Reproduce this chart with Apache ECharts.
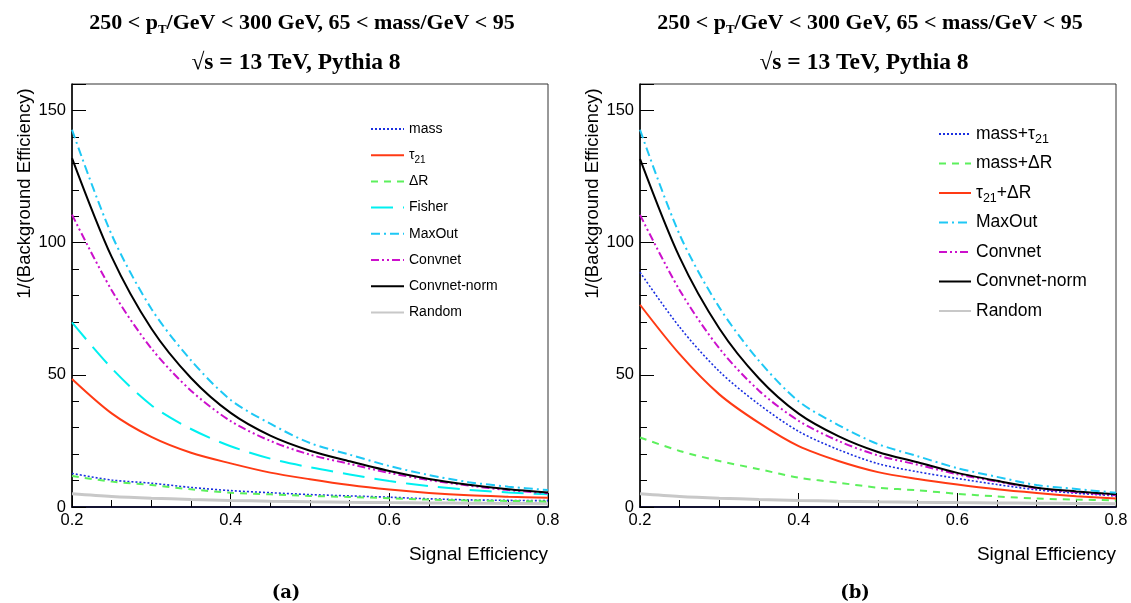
<!DOCTYPE html>
<html>
<head>
<meta charset="utf-8">
<script src="https://cdn.jsdelivr.net/npm/echarts@6/dist/echarts.min.js"></script>
<style>html,body{margin:0;padding:0;background:#fff;}#c{width:1131px;height:603px;}</style>
</head>
<body>
<div id="c"></div>
<script>
// Signal efficiency sample points
var xs = [0.2, 0.25, 0.3, 0.35, 0.4, 0.45, 0.5, 0.55, 0.6, 0.65, 0.7, 0.75, 0.8];
var xTicks = ['0.2', '0.4', '0.6', '0.8'];
var yTicks = [0, 50, 100, 150];

// (a) panel: 1/(background efficiency)
var aMass   = [12.7, 10.2, 9.0, 7.4, 6.2, 5.4, 4.7, 4.2, 3.7, 3.1, 2.7, 2.5, 2.4];
var aTau21  = [48.4, 35.4, 26.5, 20.5, 16.5, 13.0, 10.5, 8.3, 6.6, 5.3, 4.4, 3.9, 3.5];
var aDR     = [11.7, 9.6, 8.3, 6.7, 5.4, 4.8, 4.2, 3.8, 3.3, 2.8, 2.5, 2.3, 2.1];
var aFisher = [69.8, 52.5, 38.5, 29.5, 23.0, 18.3, 15.0, 12.3, 9.8, 7.9, 6.5, 5.5, 4.8];
var aMaxOut = [142.7, 103.0, 75.0, 55.5, 40.5, 31.5, 24.2, 19.8, 15.5, 12.1, 9.4, 7.7, 6.4];
var aConv   = [110.6, 82.0, 60.0, 44.0, 32.5, 25.0, 19.8, 16.3, 12.9, 10.2, 8.1, 6.4, 5.2];
var aConvN  = [132.0, 94.6, 67.5, 48.8, 35.6, 27.0, 21.3, 17.3, 13.6, 10.6, 8.4, 6.7, 5.5];
var random  = [5.0, 4.0, 3.33, 2.86, 2.5, 2.22, 2.0, 1.82, 1.67, 1.54, 1.43, 1.33, 1.25];

// (b) panel
var bMassTau = [88.8, 68.0, 51.3, 38.8, 28.6, 21.7, 16.4, 13.3, 10.8, 8.5, 6.5, 5.2, 4.2];
var bMassDR  = [26.3, 21.2, 17.4, 14.3, 11.1, 9.2, 7.3, 6.3, 5.0, 4.0, 3.2, 2.8, 2.5];
var bTauDR   = [76.5, 57.8, 42.6, 31.8, 23.0, 17.4, 13.2, 10.6, 8.5, 6.7, 5.3, 4.1, 3.2];
var bMaxOut  = [142.7, 103.0, 75.5, 55.3, 40.0, 31.0, 23.8, 19.2, 14.7, 11.4, 8.3, 6.8, 5.4];
var bConv    = [110.5, 82.0, 60.0, 44.0, 32.6, 25.0, 19.5, 16.0, 12.4, 9.6, 7.1, 5.6, 4.4];
var bConvN   = [131.7, 94.4, 67.5, 48.6, 35.3, 26.8, 20.8, 16.9, 12.9, 9.9, 7.3, 5.9, 4.8];

var legendA = ['mass', 'τ21', 'ΔR', 'Fisher', 'MaxOut', 'Convnet', 'Convnet-norm', 'Random'];
var legendB = ['mass+τ21', 'mass+ΔR', 'τ21+ΔR', 'MaxOut', 'Convnet', 'Convnet-norm', 'Random'];

var SANS = 'Liberation Sans';
var SERIF = 'Liberation Serif';

var styles = {
  'mass':        {color: '#1a2fe0', type: [2, 2], width: 1.6},
  'mass+τ21':    {color: '#1a2fe0', type: [2, 2], width: 1.6},
  'τ21':         {color: '#ff3a14', type: 'solid', width: 2},
  'τ21+ΔR':      {color: '#ff3a14', type: 'solid', width: 2},
  'ΔR':          {color: '#5cf05c', type: [7, 6], width: 2},
  'mass+ΔR':     {color: '#5cf05c', type: [7, 6], width: 2},
  'Fisher':      {color: '#00f0f0', type: [22, 10], width: 2},
  'MaxOut':      {color: '#1ec8f5', type: [9, 4, 2, 4], width: 2},
  'Convnet':     {color: '#cc10cc', type: [8, 3, 2, 3, 2, 3], width: 2},
  'Convnet-norm':{color: '#000000', type: 'solid', width: 2},
  'Random':      {color: '#c8c8c8', type: 'solid', width: 3}
};

function pairs(arr) { return xs.map(function (x, i) { return [x, arr[i]]; }); }

function mkSeries(name, arr, g) {
  var s = styles[name];
  return {
    name: name, type: 'line', xAxisIndex: g, yAxisIndex: g * 2,
    data: pairs(arr), smooth: 0.3, symbol: 'none', silent: true,
    color: s.color,
    lineStyle: {color: s.color, type: s.type, width: s.width},
    z: name === 'Random' ? 1 : 3
  };
}

function fmtName(n) {
  return n.replace(/τ21/g, 'τ{s|21}');
}

function mkGrid(left) {
  return {left: left, top: 84, width: 476, height: 423, show: true, borderColor: '#333', borderWidth: 1, containLabel: false};
}

function mkX(g) {
  return {
    type: 'value', gridIndex: g, min: 0.2, max: 0.8, interval: 0.2,
    name: 'Signal Efficiency', nameLocation: 'end', nameGap: 0,
    nameTextStyle: {fontFamily: SANS, fontSize: 19, color: '#000', align: 'right', verticalAlign: 'top', padding: [38, 0, 0, 0]},
    axisLine: {show: true, onZero: false, lineStyle: {color: '#141432', width: 2}},
    axisTick: {show: true, inside: true, length: 14, lineStyle: {color: '#000', width: 1}},
    minorTick: {show: true, splitNumber: 4, length: 7, lineStyle: {color: '#000', width: 1}},
    axisLabel: {fontFamily: SANS, fontSize: 16.5, color: '#000', margin: 5,
      formatter: function (v) { var t = v.toFixed(1); return xTicks.indexOf(t) >= 0 ? t : ''; }},
    splitLine: {show: false}
  };
}

function mkYMajor(g) {
  return {
    type: 'value', gridIndex: g, min: 0, max: 160, interval: 50, position: 'left',
    name: '1/(Background Efficiency)', nameLocation: 'middle', nameGap: 36,
    nameTextStyle: {fontFamily: SANS, fontSize: 18.5, color: '#000', padding: [0, 0, 0, 204]},
    axisLine: {show: true, onZero: false, lineStyle: {color: '#000', width: 1.5}},
    axisTick: {show: true, inside: true, length: 14, lineStyle: {color: '#000', width: 1}},
    axisLabel: {fontFamily: SANS, fontSize: 16.5, color: '#000', margin: 6,
      formatter: function (v) { return yTicks.indexOf(v) >= 0 ? String(v) : ''; }},
    splitLine: {show: false}
  };
}

function mkYMinor(g) {
  return {
    type: 'value', gridIndex: g, min: 0, max: 160, interval: 10, position: 'left', offset: 0,
    axisLine: {show: false},
    axisTick: {show: true, inside: true, length: 7, lineStyle: {color: '#000', width: 1}},
    axisLabel: {show: false}, splitLine: {show: false}
  };
}

function mkTitle(cx) {
  return [
    {text: '250 < p{s|T}/GeV < 300 GeV, 65 < mass/GeV < 95', left: cx - 5, top: 5, textAlign: 'center',
      textStyle: {fontFamily: SERIF, fontWeight: 'bold', fontSize: 22, color: '#000',
        rich: {s: {fontFamily: SERIF, fontWeight: 'bold', fontSize: 13, verticalAlign: 'bottom', padding: [13, 0, 0, 0]}}}},
    {text: '√s = 13 TeV, Pythia 8', left: cx - 11, top: 46, textAlign: 'center',
      textStyle: {fontFamily: SERIF, fontWeight: 'bold', fontSize: 23.5, color: '#000'}}
  ];
}

var option = {
  animation: false,
  backgroundColor: '#ffffff',
  title: mkTitle(302).concat(mkTitle(870)).concat([
    {text: '(a)', left: 281, top: 579, textAlign: 'center', textStyle: {fontFamily: 'DejaVu Serif', fontWeight: 'bold', fontSize: 18, color: '#000'}},
    {text: '(b)', left: 850, top: 579, textAlign: 'center', textStyle: {fontFamily: 'DejaVu Serif', fontWeight: 'bold', fontSize: 18, color: '#000'}}
  ]),
  grid: [mkGrid(72), mkGrid(640)],
  xAxis: [mkX(0), mkX(1)],
  yAxis: [mkYMajor(0), mkYMinor(0), mkYMajor(1), mkYMinor(1)],
  legend: [
    {orient: 'vertical', left: 365, top: 114, itemWidth: 33, itemHeight: 14, itemGap: 6.2,
      data: legendA, formatter: fmtName, selectedMode: false, itemStyle: {opacity: 0},
      textStyle: {fontFamily: SANS, fontSize: 14, color: '#000', lineHeight: 20,
        rich: {s: {fontFamily: SANS, fontSize: 10, lineHeight: 10, verticalAlign: 'bottom'}}}},
    {orient: 'vertical', left: 933, top: 117, itemWidth: 32, itemHeight: 14, itemGap: 5.5,
      data: legendB, formatter: fmtName, selectedMode: false, itemStyle: {opacity: 0},
      textStyle: {fontFamily: SANS, fontSize: 17.5, color: '#000', lineHeight: 24,
        rich: {s: {fontFamily: SANS, fontSize: 12.5, lineHeight: 12, verticalAlign: 'bottom'}}}}
  ],
  series: [
    mkSeries('Random', random, 0),
    mkSeries('mass', aMass, 0),
    mkSeries('ΔR', aDR, 0),
    mkSeries('τ21', aTau21, 0),
    mkSeries('Fisher', aFisher, 0),
    mkSeries('Convnet', aConv, 0),
    mkSeries('Convnet-norm', aConvN, 0),
    mkSeries('MaxOut', aMaxOut, 0),
    mkSeries('Random', random, 1),
    mkSeries('mass+ΔR', bMassDR, 1),
    mkSeries('τ21+ΔR', bTauDR, 1),
    mkSeries('mass+τ21', bMassTau, 1),
    mkSeries('Convnet', bConv, 1),
    mkSeries('Convnet-norm', bConvN, 1),
    mkSeries('MaxOut', bMaxOut, 1)
  ]
};

var chart = echarts.init(document.getElementById('c'), null, {renderer: 'canvas'});
chart.setOption(option);
</script>
</body>
</html>
